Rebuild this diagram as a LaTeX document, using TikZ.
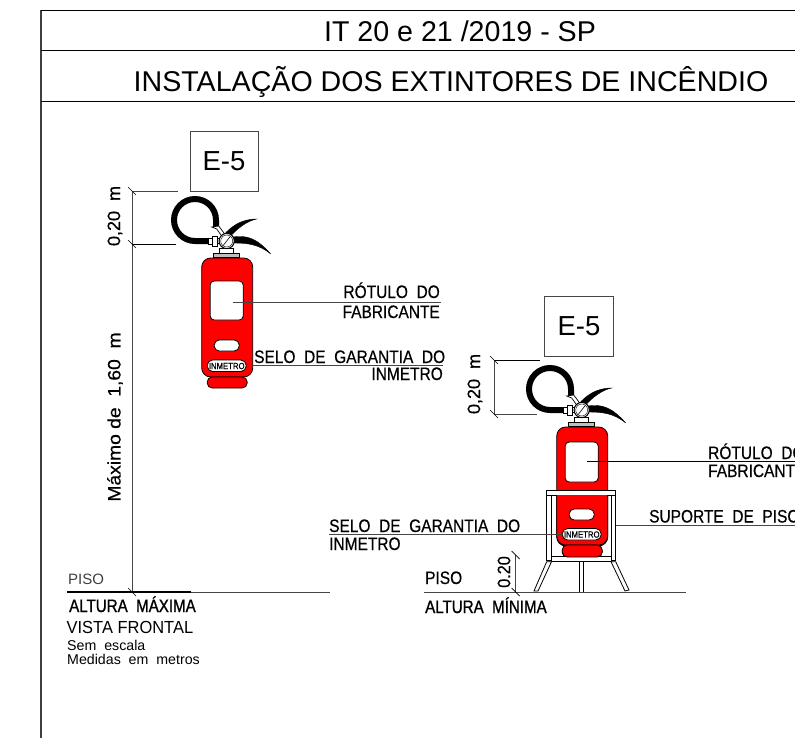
\documentclass[tikz,border=0pt]{standalone}
\usepackage{fontspec}
\setmainfont{Liberation Sans}
\newfontfamily\cadfont[FakeBold=0.5]{Liberation Sans}
\newfontfamily\cadbold[FakeBold=1.2]{Liberation Sans}
\usetikzlibrary{calc}
\definecolor{extred}{RGB}{255,0,0}
\definecolor{lineg}{RGB}{70,70,70}
\newcommand{\cadt}[2][.86]{\scalebox{#1}[1]{#2}}
\tikzset{
  frameline/.style={draw=black,line width=0.8pt},
  dimline/.style={draw=lineg,line width=0.9pt},
  leader/.style={draw=lineg,line width=0.8pt},
  bodyshape/.style={draw=black,fill=extred,line width=0.8pt},
  whitepart/.style={draw=black,fill=white,line width=0.8pt},
  hose/.style={draw=black,line width=6pt},
  title/.style={anchor=center,inner sep=0pt,font=\fontsize{28.6}{30}\selectfont},
  tagbox/.style={draw=lineg,line width=0.7pt,fill=white,minimum width=68pt,minimum height=60pt,inner sep=0pt,font=\fontsize{27.5}{29}\selectfont},
  cad/.style={inner sep=0pt,font=\cadfont\fontsize{18}{19}\selectfont},
  cadb/.style={inner sep=0pt,font=\cadbold\fontsize{18}{19}\selectfont},
  cadsmall/.style={inner sep=0pt,font=\fontsize{14.2}{15}\selectfont},
  sealtext/.style={inner sep=0pt,font=\cadfont\fontsize{8}{8}\selectfont},
}
% #1,#2 gauge centre; #3,#4 window top and bottom (local)
\newcommand{\extinguisher}[4]{%
\begin{scope}[shift={(#1,#2)}]
  % hose
  \draw[hose,line cap=butt] (-18,0) -- (-31.7,0) .. controls (-43.3,0) and (-52.7,-9.4) .. (-52.7,-21)
     .. controls (-52.7,-32.6) and (-43.3,-42) .. (-31.7,-42)
     .. controls (-20,-42) and (-10.7,-32.6) .. (-10.7,-21) -- (-10.7,-14);
  \draw[line width=0.7pt,fill=white] (-18,-3) rectangle (-14.5,3);
  \draw[line width=0.7pt,fill=white] (-14.5,-5) rectangle (-9.5,5);
  \draw[line width=0.7pt] (-9.5,-2.5) -- (-6,-2.5) (-9.5,2.5) -- (-6,2.5);
  \draw[line width=0.7pt,fill=white] (-15,-14) -- (-8,-15) -- (-2,-7) -- (-5,-5) -- (-10,-12) -- cycle;
  % handles
  \draw[fill=black] (-3,-6) .. controls (4,-14) and (14,-22) .. (30,-22)
     .. controls (20,-20) and (10,-12) .. (3,-4) -- cycle;
  \draw[fill=black] (6,-4) .. controls (20,-6) and (30,-3) .. (44,13)
     .. controls (32,3) and (20,2) .. (6,2) -- cycle;
  % neck
  \draw[line width=0.7pt,fill=white] (-7,7) rectangle (7,12);
  \draw[line width=0.7pt,fill=white!75!black] (-13,12) rectangle (13,16);
  % gauge
  \draw[line width=1pt,fill=white] (0,0) circle (7.6);
  \draw[line width=0.6pt] (-3.5,4.5) -- (3.5,-4.5);
  \draw[line width=0.4pt] (0,0) circle (6);
  % body
  \draw[bodyshape,rounded corners=9pt] (-25,17) rectangle (26,136);
  \draw[bodyshape,rounded corners=5pt] (-19.5,136) rectangle (20.5,147);
  \draw[whitepart,rounded corners=4pt] (-16.5,#3) rectangle (16.5,#4);
  \draw[whitepart,rounded corners=5pt] (-12.5,99) rectangle (12.5,110);
  \draw[whitepart,rounded corners=5.5pt] (-19.5,119) rectangle (19.5,130.5);
  \node[sealtext] at (0,125) {\scalebox{.97}[1.1]{INMETRO}};
\end{scope}}
\begin{document}
\begin{tikzpicture}[x=1pt,y=-1pt]
\useasboundingbox (0,0) rectangle (795,738);
\clip (0,0) rectangle (795,738);
\fill[white] (0,0) rectangle (795,738);
% frame
\draw[frameline,line width=1.2pt,draw=black!75] (41,738) -- (41,10);
\draw[frameline] (41,10) -- (795,10);
\draw[frameline] (41,50) -- (795,50);
\draw[frameline] (41,101) -- (795,101);
\node[title] (t1) at (460,31) {IT 20 e 21 /2019 - SP};
\node[title] (t2) at (451,82) {INSTALAÇÃO DOS EXTINTORES DE INCÊNDIO};

% === left ===
\coordinate (dimTopL) at (132,191);
\coordinate (dimMidL) at (132,244);
\coordinate (dimBotL) at (132,592);
\draw[dimline] (dimTopL) -- (dimBotL);
\draw[leader] (dimTopL) -- (178,191);
\draw[draw=black,line width=0.8pt] (dimMidL) -- (176,244);
\foreach \c in {dimTopL,dimMidL,dimBotL} \draw[draw=black,line width=0.7pt] ($(\c)+(-4,-4)$) -- ($(\c)+(4,4)$);
\extinguisher{226.7}{241}{40}{79}
\node[tagbox] (tagL) at (224,161) {E-5};
\node[cad,rotate=90,anchor=center] (d1) at (115,216) {0,20 \ m};
\node[cad,rotate=90,anchor=center] (d2) at (115,417) {\cadt[1.07]{Máximo de \ 1,60 \ m}};

\coordinate (lblA) at (233,302.5);
\coordinate (lblB) at (441,302.5);
\draw[leader] (lblA) -- (lblB);
\node[cad,anchor=base east] (r1) at (440,298) {\cadt{RÓTULO \ DO}};
\node[cad,anchor=base east] (r2) at (440,318) {\cadt{FABRICANTE}};
\coordinate (lblC) at (253,365);
\coordinate (lblD) at (443,365);
\draw[leader] (lblC) -- (lblD);
\node[cad,anchor=base west] (s1) at (254,363) {\cadt{SELO \ DE \ GARANTIA \ DO}};
\node[cad,anchor=base east] (s2) at (443,380) {\cadt{INMETRO}};

\coordinate (floorLa) at (67,592);
\coordinate (floorLb) at (330,592);
\draw[leader] (floorLa) -- (floorLb);
\draw[draw=black,line width=1.2pt] (floorLa) -- (191,592);
\node[inner sep=0pt,anchor=base west,font=\fontsize{15}{16}\selectfont,text=black!75] (p1) at (68,584) {PISO};
\node[cadb,anchor=base west] (a1) at (69,612) {\cadt[.84]{ALTURA \ MÁXIMA}};
\node[anchor=base west,inner sep=0pt,font=\fontsize{17.5}{18}\selectfont] (v1) at (66.5,633) {\cadt[.94]{VISTA FRONTAL}};
\node[cadsmall,anchor=base west] (n1) at (67,650) {Sem \ escala};
\node[cadsmall,anchor=base west] (n2) at (67,664) {Medidas \ em \ metros};

% === right ===
\coordinate (dimTopR) at (494,360);
\coordinate (dimMidR) at (494,414);
\draw[dimline] (dimTopR) -- (dimMidR);
\draw[draw=black,line width=0.8pt] (dimTopR) -- (540,360);
\draw[leader] (dimMidR) -- (537,414);
\foreach \c in {dimTopR,dimMidR} \draw[draw=black,line width=0.7pt] ($(\c)+(-4,-4)$) -- ($(\c)+(4,4)$);
\extinguisher{581.7}{410}{32}{72}
\node[tagbox,minimum width=69pt,minimum height=60pt] (tagR) at (579,326) {E-5};
\node[cad,rotate=90,anchor=center] (d3) at (475,384) {0,20 \ m};

\coordinate (lblE) at (587,461.5);
\coordinate (lblF) at (795,461.5);
\draw[draw=black,line width=0.8pt] (lblE) -- (lblF);
\node[cad,anchor=base west] (r3) at (708,459) {\cadt{RÓTULO \ DO}};
\node[cad,anchor=base west] (r4) at (708,477) {\cadt{FABRICANTE}};

% stand
\begin{scope}[line width=0.8pt]
  \draw[fill=white] (546.7,490) rectangle (551.5,560);
  \draw[fill=white] (611,490) rectangle (615.7,560);
  \draw[fill=white] (546.7,490) rectangle (615.7,495);
  \draw[fill=white] (551.5,556.7) rectangle (611,561.7);
  \draw[fill=white] (579,561.7) rectangle (583,592);
  \draw[fill=white] (546.7,561.7) -- (551.5,561.7) -- (538,591) -- (534,591) -- cycle;
  \draw[fill=white] (611,561.7) -- (615.7,561.7) -- (629,590) -- (625,591) -- cycle;
\end{scope}
\begin{scope}
\clip (552,495.5) rectangle (611,557);
\draw[bodyshape,rounded corners=9pt] (556.7,400) rectangle (607.7,545);
\draw[bodyshape,rounded corners=5pt] (562.2,545) rectangle (602.2,557);
\draw[whitepart,rounded corners=5pt] (569.2,509) rectangle (594.2,520);
\draw[whitepart,rounded corners=5.5pt] (562.2,528.5) rectangle (601.2,540);
\node[sealtext] at (581.7,534.5) {\scalebox{.97}[1.1]{INMETRO}};
\end{scope}
\coordinate (lblG) at (616,525);
\coordinate (lblH) at (795,525);
\draw[leader] (lblG) -- (lblH);
\node[cad,anchor=base west] (u1) at (649,522.5) {\cadt{SUPORTE \ DE \ PISO}};

\coordinate (lblI) at (329,534);
\coordinate (lblJ) at (561,534);
\draw[leader] (lblI) -- (lblJ);
\node[cad,anchor=base west] (s3) at (329,532) {\cadt{SELO \ DE \ GARANTIA \ DO}};
\node[cad,anchor=base west] (s4) at (329,550) {\cadt{INMETRO}};

\coordinate (floorRa) at (424,592);
\coordinate (floorRb) at (686,592);
\draw[leader] (floorRa) -- (floorRb);
\coordinate (dim20a) at (515.7,555);
\coordinate (dim20b) at (515.7,592);
\draw[dimline] (dim20a) -- (dim20b);
\foreach \c in {dim20a,dim20b} \draw[draw=black,line width=0.7pt] ($(\c)+(-4,-4)$) -- ($(\c)+(4,4)$);
\node[cad,rotate=90,anchor=center] (d4) at (504,572) {\cadt[.9]{0.20}};
\node[cad,anchor=base west] (p2) at (425,584) {\cadt{PISO}};
\node[cadb,anchor=base west] (a2) at (425,613) {\cadt[.84]{ALTURA \ MÍNIMA}};
\end{tikzpicture}
\end{document}
